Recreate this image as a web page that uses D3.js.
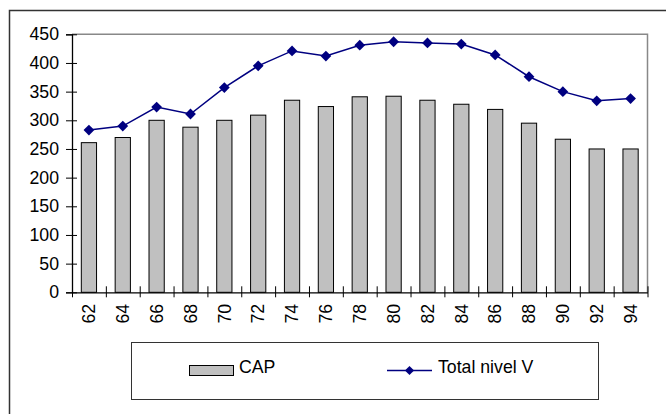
<!DOCTYPE html>
<html><head><meta charset="utf-8">
<script src="https://cdn.jsdelivr.net/npm/d3@7"></script>
<style>body{margin:0;background:#fff}svg{display:block}text{font-family:Arial,"Liberation Sans",sans-serif;fill:#000}</style>
</head><body>
<svg id="c" width="666" height="414"></svg>
<script>
const categories = ["62","64","66","68","70","72","74","76","78","80","82","84","86","88","90","92","94"];
const capValues = [261,270,300,288,300,309,335,324,341,342,335,328,319,295,267,250,250];
const totalValues = [283,290,323,311,357,395,421,412,431,437,435,433,414,376,350,334,338];
const yTicks = [0,50,100,150,200,250,300,350,400,450];
const seriesNames = ["CAP","Total nivel V"];

const FS = 17.7;
const svg = d3.select("#c");
const L = 72, R = 647.5, T = 34.3, B = 292.3;

// outer chart border
svg.append("rect").attr("x",9.5).attr("y",10.5).attr("width",700).attr("height",450)
  .attr("fill","none").attr("stroke","#333").attr("stroke-width",1.5);

const x = d3.scaleBand().domain(categories).range([L,R]).padding(0);
const xb = d3.scaleLinear().domain([0,categories.length]).range([L,R]);
const y = d3.scaleLinear().domain([0,450]).range([B,T]);

// plot area border (gray)
svg.append("path").attr("d",`M${L},${T}H${R}V${B}`).attr("fill","none").attr("stroke","#888").attr("stroke-width",1.5);

// bars
const bw = x.bandwidth()*0.45;
svg.append("g").selectAll("rect").data(categories).join("rect")
  .attr("x",(d)=>x(d)+x.bandwidth()/2-bw/2)
  .attr("y",(d,i)=>y(capValues[i]))
  .attr("width",bw)
  .attr("height",(d,i)=>B-y(capValues[i]))
  .attr("fill","#c0c0c0").attr("stroke","#000").attr("stroke-width",1);

// y axis
const gy = svg.append("g").attr("transform",`translate(${L},0)`)
  .call(d3.axisLeft(y).tickValues(yTicks).tickSize(6).tickPadding(7));
gy.select(".domain").attr("stroke","#000").attr("stroke-width",1.3);
gy.selectAll(".tick line").attr("x1",5).attr("stroke","#000");
gy.selectAll(".tick text").attr("font-size",FS).style("font-family","Arial, Liberation Sans, sans-serif");

// x axis boundary ticks
const gxb = svg.append("g").attr("transform",`translate(0,${B})`)
  .call(d3.axisBottom(xb).tickValues(d3.range(categories.length+1)).tickFormat("").tickSize(6).tickSizeOuter(0));
gxb.select(".domain").attr("stroke","#000").attr("stroke-width",1.3);
gxb.selectAll(".tick line").attr("y1",-6).attr("y2",5).attr("stroke","#000");

// x labels
const gx = svg.append("g").attr("transform",`translate(0,${B})`)
  .call(d3.axisBottom(x).tickSize(0).tickPadding(0));
gx.select(".domain").remove();
gx.selectAll(".tick text")
  .attr("font-size",FS).style("font-family","Arial, Liberation Sans, sans-serif")
  .attr("text-anchor","end").attr("x",0).attr("y",0).attr("dy","0.35em")
  .attr("transform","translate(0,11.5) rotate(-90)");

// line
const cx = (d)=>x(d)+x.bandwidth()/2;
svg.append("path")
  .attr("d",d3.line().x((d,i)=>cx(categories[i])).y((d)=>y(d))(totalValues))
  .attr("fill","none").attr("stroke","#000080").attr("stroke-width",1.5);
svg.append("g").selectAll("path").data(totalValues).join("path")
  .attr("transform",(d,i)=>`translate(${cx(categories[i])},${y(d)}) rotate(45)`)
  .attr("d",d3.symbol().type(d3.symbolSquare).size(58)())
  .attr("fill","#000080");

// legend
svg.append("rect").attr("x",131.5).attr("y",342.5).attr("width",467).attr("height",57)
  .attr("fill","#fff").attr("stroke","#333").attr("stroke-width",1);
svg.append("rect").attr("x",189.5).attr("y",365.5).attr("width",44).attr("height",10)
  .attr("fill","#c0c0c0").attr("stroke","#000");
svg.append("text").attr("x",239).attr("y",372.5).attr("font-size",FS).text(seriesNames[0]);
svg.append("line").attr("x1",387).attr("x2",432).attr("y1",370.5).attr("y2",370.5)
  .attr("stroke","#000080").attr("stroke-width",1.5);
svg.append("path").attr("transform","translate(409.5,370.5) rotate(45)")
  .attr("d",d3.symbol().type(d3.symbolSquare).size(42)()).attr("fill","#000080");
svg.append("text").attr("x",438).attr("y",372.5).attr("font-size",FS).text(seriesNames[1]);
</script>
</body></html>
